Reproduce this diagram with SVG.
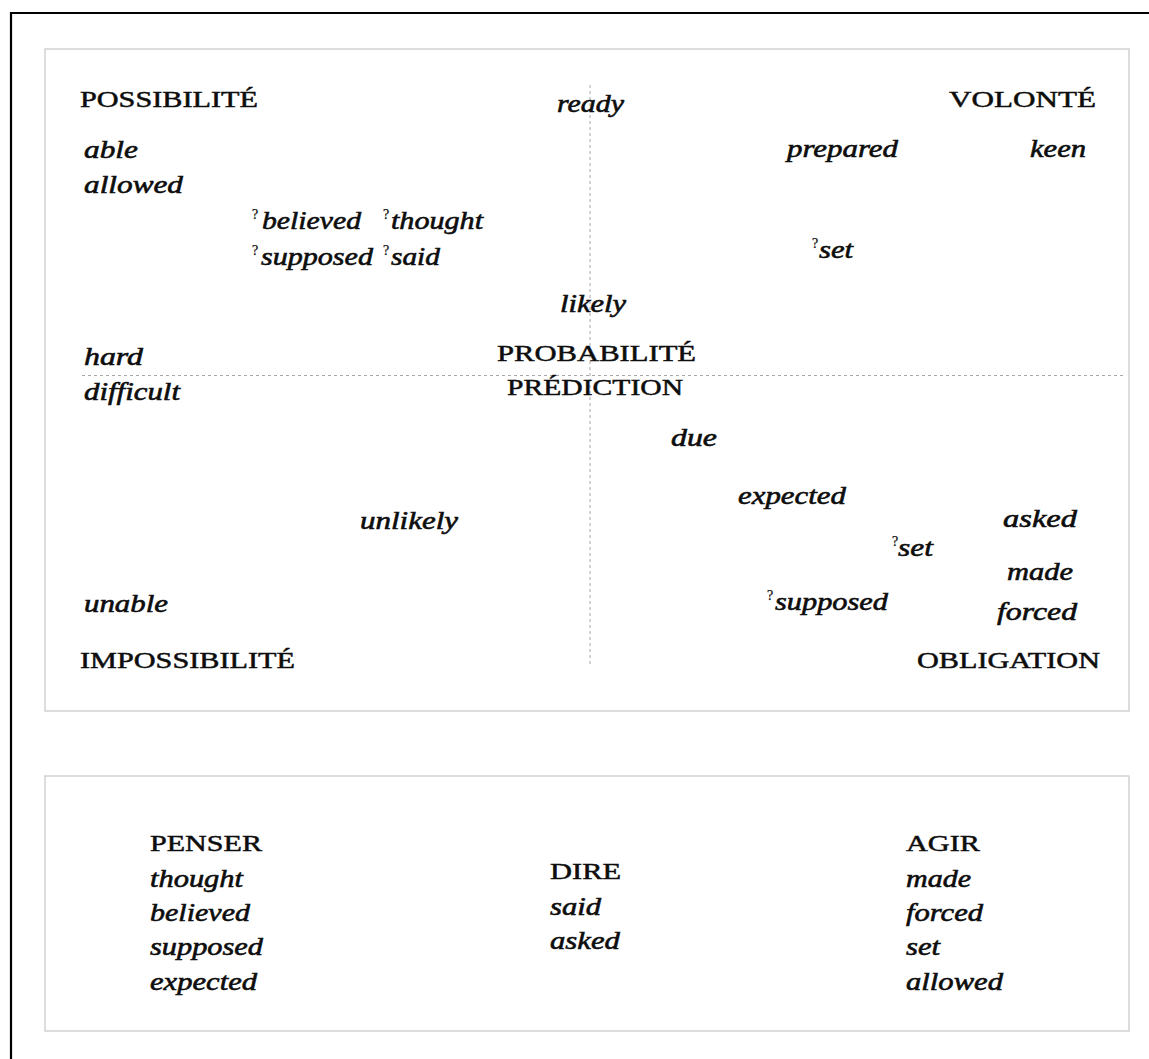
<svg xmlns="http://www.w3.org/2000/svg" width="1149" height="1059" viewBox="0 0 1149 1059">
  <style>
    text { font-family: "Liberation Serif", "Times New Roman", serif; fill: #0d0d0d; stroke: #0d0d0d; stroke-width: 0.6; }
    .cap { font-size: 24px; stroke-width: 0.5; }
    .w { font-size: 25.5px; font-style: italic; }
    .q { font-size: 14px; stroke-width: 0.25; }
    .box { fill: #fff; stroke: #d2d2d2; stroke-width: 1.5; }
    .axis { stroke: #a8a8a8; stroke-width: 1; stroke-dasharray: 3 3; fill: none; }
  </style>
  <rect width="1149" height="1059" fill="#fff"/>
  <!-- page frame -->
  <path d="M11 1059 V13 H1149" fill="none" stroke="#000" stroke-width="2.2"/>

  <!-- modal map; each word is placed with translate() and widened with scale(1.2 1) -->
  <g id="map">
    <rect class="box" x="45" y="49" width="1084" height="662"/>
    <g id="axes">
      <line class="axis" x1="590" y1="85" x2="590" y2="665"/>
      <line class="axis" x1="82" y1="375.5" x2="1125" y2="375.5"/>
    </g>

    <g id="possibilite">
      <text class="cap" transform="translate(80 107) scale(1.2 1)" textLength="148.3" lengthAdjust="spacingAndGlyphs">POSSIBILITÉ</text>
      <text class="w" transform="translate(84 158) scale(1.2 1)" textLength="45" lengthAdjust="spacingAndGlyphs">able</text>
      <text class="w" transform="translate(84 193) scale(1.2 1)" textLength="82.5" lengthAdjust="spacingAndGlyphs">allowed</text>
    </g>
    <g id="ready">
      <text class="w" transform="translate(557 112) scale(1.2 1)" textLength="55.8" lengthAdjust="spacingAndGlyphs">ready</text>
    </g>
    <g id="volonte">
      <text class="cap" transform="translate(949 107) scale(1.2 1)" textLength="122.5" lengthAdjust="spacingAndGlyphs">VOLONTÉ</text>
      <text class="w" transform="translate(787 157) scale(1.2 1)" textLength="92.5" lengthAdjust="spacingAndGlyphs">prepared</text>
      <text class="w" transform="translate(1030 157) scale(1.2 1)" textLength="46.7" lengthAdjust="spacingAndGlyphs">keen</text>
    </g>
    <g id="hearsay">
      <text class="q" x="252" y="219">?</text>
      <text class="w" transform="translate(262 229) scale(1.2 1)" textLength="82.5" lengthAdjust="spacingAndGlyphs">believed</text>
      <text class="q" x="383" y="219">?</text>
      <text class="w" transform="translate(391 229) scale(1.2 1)" textLength="76.7" lengthAdjust="spacingAndGlyphs">thought</text>
      <text class="q" x="252" y="255">?</text>
      <text class="w" transform="translate(261 265) scale(1.2 1)" textLength="93.3" lengthAdjust="spacingAndGlyphs">supposed</text>
      <text class="q" x="383" y="255">?</text>
      <text class="w" transform="translate(391 265) scale(1.2 1)" textLength="40.8" lengthAdjust="spacingAndGlyphs">said</text>
    </g>
    <g id="set-upper">
      <text class="q" x="812" y="248">?</text>
      <text class="w" transform="translate(819 258) scale(1.2 1)" textLength="28.4" lengthAdjust="spacingAndGlyphs">set</text>
    </g>
    <g id="probabilite">
      <text class="w" transform="translate(560 312) scale(1.2 1)" textLength="55" lengthAdjust="spacingAndGlyphs">likely</text>
      <text class="cap" transform="translate(497 361) scale(1.2 1)" textLength="165.9" lengthAdjust="spacingAndGlyphs">PROBABILITÉ</text>
      <text class="cap" transform="translate(507 395) scale(1.2 1)" textLength="146.7" lengthAdjust="spacingAndGlyphs">PRÉDICTION</text>
    </g>
    <g id="difficulty">
      <text class="w" transform="translate(84 365) scale(1.2 1)" textLength="49.2" lengthAdjust="spacingAndGlyphs">hard</text>
      <text class="w" transform="translate(84 400) scale(1.2 1)" textLength="80" lengthAdjust="spacingAndGlyphs">difficult</text>
    </g>
    <g id="expectation">
      <text class="w" transform="translate(671 446) scale(1.2 1)" textLength="38.3" lengthAdjust="spacingAndGlyphs">due</text>
      <text class="w" transform="translate(738 504) scale(1.2 1)" textLength="90" lengthAdjust="spacingAndGlyphs">expected</text>
      <text class="w" transform="translate(360 529) scale(1.2 1)" textLength="81.7" lengthAdjust="spacingAndGlyphs">unlikely</text>
    </g>
    <g id="obligation">
      <text class="w" transform="translate(1003 527) scale(1.2 1)" textLength="61.7" lengthAdjust="spacingAndGlyphs">asked</text>
      <text class="q" x="892" y="546">?</text>
      <text class="w" transform="translate(898 556) scale(1.2 1)" textLength="29.1" lengthAdjust="spacingAndGlyphs">set</text>
      <text class="w" transform="translate(1007 580) scale(1.2 1)" textLength="55" lengthAdjust="spacingAndGlyphs">made</text>
      <text class="q" x="767" y="600">?</text>
      <text class="w" transform="translate(775 610) scale(1.2 1)" textLength="94.2" lengthAdjust="spacingAndGlyphs">supposed</text>
      <text class="w" transform="translate(997 620) scale(1.2 1)" textLength="66.7" lengthAdjust="spacingAndGlyphs">forced</text>
      <text class="cap" transform="translate(917 668) scale(1.2 1)" textLength="152.5" lengthAdjust="spacingAndGlyphs">OBLIGATION</text>
    </g>
    <g id="impossibilite">
      <text class="w" transform="translate(84 612) scale(1.2 1)" textLength="70" lengthAdjust="spacingAndGlyphs">unable</text>
      <text class="cap" transform="translate(80 668) scale(1.2 1)" textLength="179.2" lengthAdjust="spacingAndGlyphs">IMPOSSIBILITÉ</text>
    </g>
  </g>

  <!-- verb classes -->
  <g id="classes">
    <rect class="box" x="45" y="776" width="1084" height="255"/>
    <g id="penser">
      <text class="cap" transform="translate(150 851) scale(1.2 1)" textLength="93.3" lengthAdjust="spacingAndGlyphs">PENSER</text>
      <text class="w" transform="translate(150 887) scale(1.2 1)" textLength="77.5" lengthAdjust="spacingAndGlyphs">thought</text>
      <text class="w" transform="translate(150 921) scale(1.2 1)" textLength="83.3" lengthAdjust="spacingAndGlyphs">believed</text>
      <text class="w" transform="translate(150 955) scale(1.2 1)" textLength="94.2" lengthAdjust="spacingAndGlyphs">supposed</text>
      <text class="w" transform="translate(150 990) scale(1.2 1)" textLength="89.2" lengthAdjust="spacingAndGlyphs">expected</text>
    </g>
    <g id="dire">
      <text class="cap" transform="translate(550 879) scale(1.2 1)" textLength="59.2" lengthAdjust="spacingAndGlyphs">DIRE</text>
      <text class="w" transform="translate(550 915) scale(1.2 1)" textLength="42.5" lengthAdjust="spacingAndGlyphs">said</text>
      <text class="w" transform="translate(550 949) scale(1.2 1)" textLength="58.3" lengthAdjust="spacingAndGlyphs">asked</text>
    </g>
    <g id="agir">
      <text class="cap" transform="translate(906 851) scale(1.2 1)" textLength="61.7" lengthAdjust="spacingAndGlyphs">AGIR</text>
      <text class="w" transform="translate(906 887) scale(1.2 1)" textLength="54.2" lengthAdjust="spacingAndGlyphs">made</text>
      <text class="w" transform="translate(906 921) scale(1.2 1)" textLength="64.2" lengthAdjust="spacingAndGlyphs">forced</text>
      <text class="w" transform="translate(906 955) scale(1.2 1)" textLength="28.4" lengthAdjust="spacingAndGlyphs">set</text>
      <text class="w" transform="translate(906 990) scale(1.2 1)" textLength="80.8" lengthAdjust="spacingAndGlyphs">allowed</text>
    </g>
  </g>
</svg>
